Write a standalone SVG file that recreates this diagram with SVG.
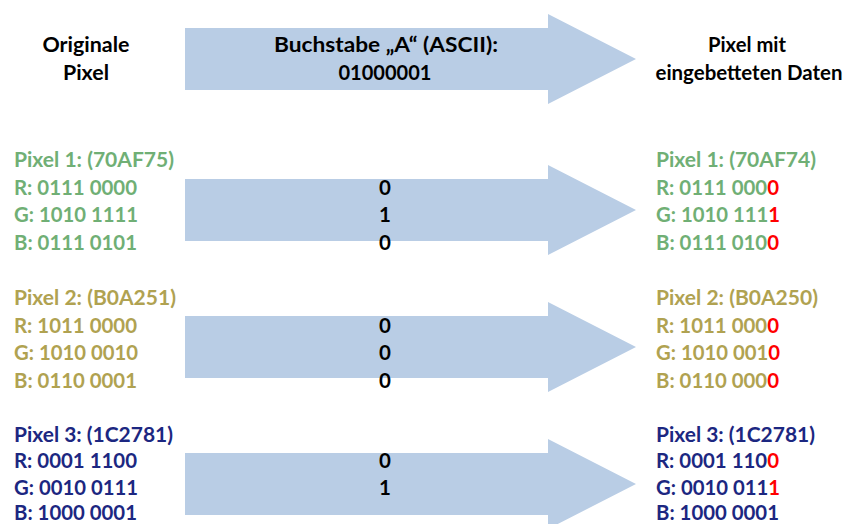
<svg xmlns="http://www.w3.org/2000/svg" width="846" height="524" viewBox="0 0 846 524">
  <style>
    text { font-family: "Lato", "Open Sans", "Liberation Sans", sans-serif; font-weight: bold; font-size: 20.5px; }
    .hdr { fill: #000000; text-anchor: middle; }
    .bit { fill: #000000; text-anchor: middle; }
    .p1 { fill: #70AF75; }
    .p2 { fill: #B0A251; }
    .p3 { fill: #1C2781; }
    .chg { fill: #FF0000; }
    .arrow { fill: #B9CDE5; stroke: none; }
  </style>
  <defs>
    <!-- block arrow centred on y=0 -->
    <polygon id="blockArrow" class="arrow" points="185,-31 548,-31 548,-45 636,0 548,45 548,31 185,31"/>
  </defs>

  <!-- block arrows with the bits they carry -->
  <g id="connectors">
    <use href="#blockArrow" transform="translate(0,59)"/>
    <use href="#blockArrow" transform="translate(0,210)"/>
    <use href="#blockArrow" transform="translate(0,347)"/>
    <use href="#blockArrow" transform="translate(0,484)"/>
    <g id="bits">
      <text class="bit" x="386" y="52" textLength="224" lengthAdjust="spacingAndGlyphs">Buchstabe „A“ (ASCII):</text>
      <text class="bit" x="385" y="80" textLength="93" lengthAdjust="spacingAndGlyphs">01000001</text>
      <text class="bit" x="385" y="194.5">0</text>
      <text class="bit" x="385" y="222">1</text>
      <text class="bit" x="385" y="249.5">0</text>
      <text class="bit" x="385" y="332.5">0</text>
      <text class="bit" x="385" y="360">0</text>
      <text class="bit" x="385" y="387.5">0</text>
      <text class="bit" x="385" y="468">0</text>
      <text class="bit" x="385" y="494.5">1</text>
    </g>
  </g>

  <!-- column headers -->
  <g id="hdr-original">
    <text class="hdr" x="86" y="52" textLength="87" lengthAdjust="spacingAndGlyphs">Originale</text>
    <text class="hdr" x="86" y="80" textLength="46" lengthAdjust="spacingAndGlyphs">Pixel</text>
  </g>
  <g id="hdr-embedded">
    <text class="hdr" x="747" y="52" textLength="78" lengthAdjust="spacingAndGlyphs">Pixel mit</text>
    <text class="hdr" x="749" y="80" textLength="187" lengthAdjust="spacingAndGlyphs">eingebetteten Daten</text>
  </g>

  <!-- original pixels -->
  <g id="pixel1-original" class="p1">
    <text x="14" y="167" textLength="160" lengthAdjust="spacingAndGlyphs">Pixel 1: (70AF75)</text>
    <text x="14" y="194.5" textLength="123" lengthAdjust="spacingAndGlyphs">R: 0111 0000</text>
    <text x="14" y="222" textLength="124" lengthAdjust="spacingAndGlyphs">G: 1010 1111</text>
    <text x="14" y="249.5" textLength="123" lengthAdjust="spacingAndGlyphs">B: 0111 0101</text>
  </g>
  <g id="pixel2-original" class="p2">
    <text x="14" y="305" textLength="162" lengthAdjust="spacingAndGlyphs">Pixel 2: (B0A251)</text>
    <text x="14" y="332.5" textLength="123" lengthAdjust="spacingAndGlyphs">R: 1011 0000</text>
    <text x="14" y="360" textLength="124" lengthAdjust="spacingAndGlyphs">G: 1010 0010</text>
    <text x="14" y="387.5" textLength="123" lengthAdjust="spacingAndGlyphs">B: 0110 0001</text>
  </g>
  <g id="pixel3-original" class="p3">
    <text x="14" y="441.5" textLength="159" lengthAdjust="spacingAndGlyphs">Pixel 3: (1C2781)</text>
    <text x="14" y="468" textLength="123" lengthAdjust="spacingAndGlyphs">R: 0001 1100</text>
    <text x="14" y="494.5" textLength="124" lengthAdjust="spacingAndGlyphs">G: 0010 0111</text>
    <text x="14" y="519.5" textLength="123" lengthAdjust="spacingAndGlyphs">B: 1000 0001</text>
  </g>

  <!-- pixels with embedded bits (changed LSB in red) -->
  <g id="pixel1-embedded" class="p1">
    <text x="656" y="167" textLength="160" lengthAdjust="spacingAndGlyphs">Pixel 1: (70AF74)</text>
    <text x="656" y="194.5" textLength="123" lengthAdjust="spacingAndGlyphs">R: 0111 000<tspan class="chg">0</tspan></text>
    <text x="656" y="222" textLength="124" lengthAdjust="spacingAndGlyphs">G: 1010 111<tspan class="chg">1</tspan></text>
    <text x="656" y="249.5" textLength="123" lengthAdjust="spacingAndGlyphs">B: 0111 010<tspan class="chg">0</tspan></text>
  </g>
  <g id="pixel2-embedded" class="p2">
    <text x="656" y="305" textLength="162" lengthAdjust="spacingAndGlyphs">Pixel 2: (B0A250)</text>
    <text x="656" y="332.5" textLength="123" lengthAdjust="spacingAndGlyphs">R: 1011 000<tspan class="chg">0</tspan></text>
    <text x="656" y="360" textLength="124" lengthAdjust="spacingAndGlyphs">G: 1010 001<tspan class="chg">0</tspan></text>
    <text x="656" y="387.5" textLength="123" lengthAdjust="spacingAndGlyphs">B: 0110 000<tspan class="chg">0</tspan></text>
  </g>
  <g id="pixel3-embedded" class="p3">
    <text x="656" y="441.5" textLength="159" lengthAdjust="spacingAndGlyphs">Pixel 3: (1C2781)</text>
    <text x="656" y="468" textLength="123" lengthAdjust="spacingAndGlyphs">R: 0001 110<tspan class="chg">0</tspan></text>
    <text x="656" y="494.5" textLength="124" lengthAdjust="spacingAndGlyphs">G: 0010 011<tspan class="chg">1</tspan></text>
    <text x="656" y="519.5" textLength="123" lengthAdjust="spacingAndGlyphs">B: 1000 0001</text>
  </g>
</svg>
